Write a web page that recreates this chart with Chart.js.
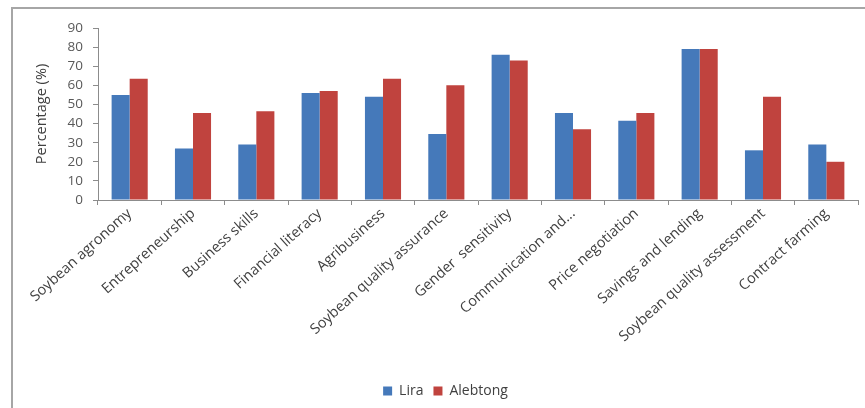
<!DOCTYPE html>
<html>
<head>
<meta charset="utf-8">
<script src="https://cdn.jsdelivr.net/npm/chart.js@4/dist/chart.umd.min.js"></script>
<style>
    html, body { margin: 0; padding: 0; background: #fff; }
    #wrap { position: relative; width: 865px; height: 408px; overflow: hidden; }
    /* grey frame around the chart object */
    #frame { position: absolute; left: 11px; top: 7px; width: 900px; height: 500px; border-left: 2px solid #a6a6a6; border-top: 2px solid #a6a6a6; }
    #chart { position: absolute; left: 0; top: 0; }
</style>
</head>
<body>
<div id="wrap">
    <div id="frame"></div>
    <canvas id="chart" width="865" height="408"></canvas>
</div>
<script>
// --- datos ---
const categories = [
    'Soybean agronomy', 'Entrepreneurship', 'Business skills', 'Financial literacy',
    'Agribusiness', 'Soybean quality assurance', 'Gender  sensitivity', 'Communication and...',
    'Price negotiation', 'Savings and lending', 'Soybean quality assessment', 'Contract farming'
];
const liraValues = [55, 27, 29, 56, 54, 34.5, 76, 45.5, 41.5, 79, 26, 29];
const alebtongValues = [63.5, 45.5, 46.5, 57, 63.5, 60, 73, 37, 45.5, 79, 54, 20];
const yTicks = [0, 10, 20, 30, 40, 50, 60, 70, 80, 90];

const textColor = '#404040';
const axisColor = '#8c8c8c';
const fontFamily = "'Open Sans', 'Liberation Sans', sans-serif";

const ctx = document.getElementById('chart').getContext('2d');

new Chart(ctx, {
    type: 'bar',
    data: {
        labels: categories,
        datasets: [
            {
                label: 'Lira',
                data: liraValues,
                backgroundColor: '#4579ba',
                categoryPercentage: 0.57,
                barPercentage: 1.0
            },
            {
                label: 'Alebtong',
                data: alebtongValues,
                backgroundColor: '#c0433e',
                categoryPercentage: 0.57,
                barPercentage: 1.0
            }
        ]
    },
    options: {
        responsive: false,
        animation: false,
        layout: { padding: { top: 28, right: 7, bottom: 0, left: 33 } },
        plugins: {
            legend: {
                position: 'bottom',
                labels: {
                    boxWidth: 9,
                    boxHeight: 9,
                    padding: 10,
                    color: textColor,
                    font: { family: fontFamily, size: 14 }
                }
            },
            tooltip: { enabled: false }
        },
        scales: {
            x: {
                grid: { drawOnChartArea: false, drawTicks: true, tickLength: 5, color: axisColor, offset: true },
                border: { color: axisColor },
                ticks: {
                    color: textColor,
                    font: { family: fontFamily, size: 14.5 },
                    minRotation: 42,
                    maxRotation: 42,
                    autoSkip: false,
                    padding: 0
                },
                afterFit: (scale) => { scale.height = 174; }
            },
            y: {
                min: 0,
                max: 90,
                afterBuildTicks: (scale) => { scale.ticks = yTicks.map(v => ({ value: v })); },
                grid: { drawOnChartArea: false, drawTicks: true, tickLength: 5, color: axisColor },
                border: { color: axisColor },
                ticks: {
                    color: '#595959',
                    font: { family: fontFamily, size: 13.5, lineHeight: 1 },
                    autoSkip: false,
                    padding: 10
                },
                title: {
                    display: true,
                    text: 'Percentage (%)',
                    color: textColor,
                    font: { family: fontFamily, size: 14.5 },
                    padding: { top: 0, bottom: 0 }
                },
                afterFit: (scale) => { scale.width = 65; }
            }
        }
    }
});
</script>
</body>
</html>
